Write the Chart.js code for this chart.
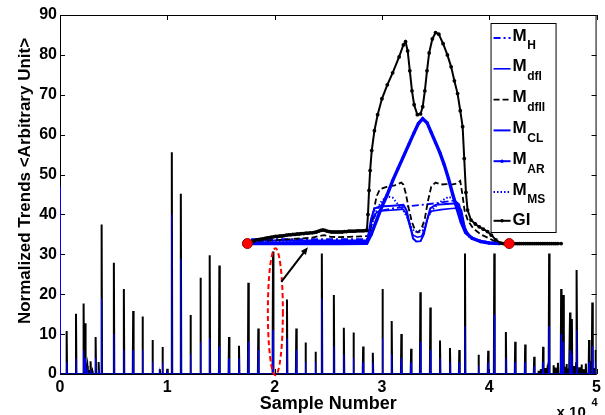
<!DOCTYPE html>
<html>
<head>
<meta charset="utf-8">
<script src="https://cdn.jsdelivr.net/npm/chart.js@4.4.0/dist/chart.umd.min.js"></script>
<style>
  html, body { margin: 0; padding: 0; background: #fff; }
  #wrap { width: 605px; height: 415px; }
</style>
</head>
<body>
<div id="wrap"><canvas id="trendChart" width="605" height="415"></canvas></div>
<script>
// spike train: peak positions (x 10^4 samples) and heights
const spikeX = [0.062, 0.149, 0.22, 0.235, 0.255, 0.285, 0.332, 0.36, 0.388, 0.502, 0.595, 0.682, 0.769, 0.862, 0.93, 0.955, 1.0,
  1.042, 1.126, 1.216, 1.309, 1.395, 1.485, 1.575, 1.668, 1.755, 1.848, 1.985, 2.115, 2.202, 2.288, 2.381, 2.44, 2.552, 2.645,
  2.735, 2.825, 2.915, 3.005, 3.091, 3.181, 3.272, 3.358, 3.451, 3.541, 3.634, 3.721, 3.774, 3.9, 3.99, 4.047, 4.155, 4.242,
  4.335, 4.419, 4.502, 4.558, 4.67, 4.69, 4.753, 4.77, 4.816, 4.93, 4.96, 4.99];
const spikeH = [10.8, 15.1, 17.7, 12.7, 2, 3.2, 9.3, 3, 37.5, 27.9, 21.3, 15.8, 14.4, 8.5, 1.2, 6.8, 1.3,
  55.6, 45.2, 14.8, 24.1, 29.8, 27.2, 9.3, 7.1, 22.9, 11.4, 30.7, 18.7, 11.4, 7.9, 5.6, 30.2, 19.8, 11.6,
  10.4, 6.9, 5.3, 21.3, 13.3, 10.0, 6.3, 20.5, 16.7, 8.4, 6.5, 6.0, 30.2, 4.8, 5.8, 30.2, 10.5, 8.1,
  7.4, 4.3, 6.8, 30.2, 21.3, 19.8, 15.4, 13.8, 26.1, 8.5, 17.9, 6];
// blue trace, same beats (first entry is the start at sample 0)
const blueX = [0].concat(spikeX);
const blueH = [47, 3, 4, 6, 4, 1, 1, 4, 1, 19, 10, 6, 6, 6, 3, 0.5, 3, 0.5,
  40, 29, 5, 8, 9, 7, 4, 4, 8, 6, 11, 9, 6, 3, 3, 19, 7, 5,
  4, 3, 3, 9, 5, 4, 3, 8, 6, 4, 3, 3, 12, 2, 3, 15, 4, 3,
  3, 2, 3, 12, 10, 8, 6, 5, 11, 3, 7, 3];
// small ripples near the end of the record
const noiseX = [0.24, 0.27, 0.30, 4.46, 4.48, 4.52, 4.54, 4.6, 4.62, 4.64, 4.7, 4.72, 4.74, 4.79, 4.81, 4.84, 4.86, 4.88, 4.9, 4.95, 4.97];
const noiseH = [1.5, 1.0, 0.8, 0.8, 1.2, 1.5, 0.9, 2.2, 1.6, 2.8, 1.8, 2.5, 1.4, 2.0, 3.0, 1.7, 2.4, 1.2, 2.6, 3.2, 1.5];

// trend curves, [x, y] pairs
const curveGI = [[1.746,32.7],[1.77,33.0],[1.79,33.2],[1.81,33.4],[1.83,33.6],[1.85,33.7],[1.87,33.8],[1.89,33.9],[1.91,34.0],
  [1.93,34.1],[1.95,34.2],[1.97,34.3],[1.99,34.4],[2.01,34.5],[2.03,34.5],[2.05,34.6],[2.07,34.6],[2.09,34.7],[2.11,34.8],
  [2.13,34.9],[2.15,34.9],[2.17,35.0],[2.19,35.0],[2.21,35.1],[2.23,35.1],[2.25,35.2],[2.27,35.2],[2.29,35.3],[2.31,35.3],
  [2.33,35.4],[2.35,35.4],[2.37,35.5],[2.39,35.6],[2.41,35.8],[2.43,36.0],[2.45,36.1],[2.47,36.0],[2.49,35.8],[2.51,35.7],
  [2.53,35.6],[2.55,35.6],[2.57,35.6],[2.59,35.6],[2.61,35.6],[2.63,35.6],[2.65,35.7],[2.67,35.7],[2.69,35.8],[2.71,35.8],
  [2.73,35.8],[2.75,35.8],[2.77,35.9],[2.79,35.9],[2.81,35.9],[2.83,35.9],[2.85,36.0],[2.86,36.0],
  [2.87,40],[2.88,46],[2.89,51],[2.905,56],[2.93,61],[2.96,65],[3.00,69],[3.05,72.5],[3.10,75.5],[3.16,79.5],[3.20,82.5],
  [3.22,83.3],[3.24,81],[3.26,76],[3.28,71],[3.30,67.5],[3.33,65],[3.36,65.2],[3.38,67],[3.40,71],[3.42,76],[3.44,80.5],
  [3.47,84],[3.50,85.6],[3.53,85.2],[3.57,82.8],[3.61,80],[3.645,77],[3.675,73.5],[3.705,70.3],[3.73,66],[3.752,62],
  [3.767,54],[3.783,45.5],[3.798,41.1],[3.83,38.6],[3.87,37.6],[3.907,36.9],[3.945,36.3],[3.984,35.7],[4.02,34.8],
  [4.062,33.6],[4.109,32.8],[4.13,32.7],[4.15,32.7],[4.17,32.7],[4.186,32.7],[4.20,32.7],[4.22,32.7],[4.24,32.7],
  [4.26,32.7],[4.28,32.7],[4.30,32.7],[4.32,32.7],[4.34,32.7],[4.36,32.7],[4.38,32.7],[4.40,32.7],[4.42,32.7],[4.44,32.7],
  [4.46,32.7],[4.48,32.7],[4.50,32.7],[4.52,32.7],[4.54,32.7],[4.56,32.7],[4.58,32.7],[4.60,32.7],[4.62,32.7],[4.64,32.7],
  [4.67,32.7]];
const curveDfII = [[1.76,32.7],[1.85,33.1],[1.95,33.4],[2.05,33.6],[2.15,33.8],[2.25,34.0],[2.35,34.2],[2.42,34.6],[2.46,34.8],
  [2.52,34.4],[2.6,34.3],[2.7,34.4],[2.8,34.5],[2.88,34.6],[2.90,37],[2.92,40.5],[2.95,44.5],[2.98,46.3],[3.05,47],[3.12,47.3],
  [3.18,48],[3.20,47.5],[3.22,45.5],[3.25,41.5],[3.28,38],[3.31,36],[3.335,35.5],[3.37,36.5],[3.40,39],[3.43,43.5],[3.46,47],
  [3.50,48],[3.55,47.5],[3.60,47.6],[3.65,47.5],[3.70,47.8],[3.73,48.4],[3.75,45],[3.77,41],[3.80,38.5],[3.85,36.5],
  [3.92,35],[4.0,34],[4.05,33.3],[4.1,32.8],[4.15,32.7]];
const curveAR = [[1.78,32.8],[2.0,32.8],[2.3,32.9],[2.6,32.9],[2.86,32.9],[2.90,35],[2.95,38.5],[3.00,42],[3.05,45],[3.10,48.5],
  [3.15,51.5],[3.20,54.5],[3.25,57.5],[3.30,60.5],[3.34,62.8],[3.38,64],[3.42,63],[3.46,60.5],[3.50,58],[3.54,55.5],[3.58,52.5],
  [3.62,49],[3.66,45],[3.70,41.5],[3.74,38],[3.78,35.5],[3.84,34],[3.92,33.2],[4.0,32.8],[4.1,32.7]];
const curveH = [[1.78,33.8],[2.2,33.8],[2.6,33.8],[2.86,33.8],[2.88,35],[2.91,38.5],[2.95,40.2],[3.0,41],[3.1,41.5],[3.2,41.9],
  [3.3,42.2],[3.4,42.5],[3.5,42.8],[3.6,43.2],[3.68,43.5],[3.72,42.5],[3.75,39],[3.78,36],[3.83,34.3],[3.9,33.5],[4.0,33],[4.1,32.8]];
const curveDfI = [[1.78,33.5],[2.2,33.5],[2.6,33.5],[2.86,33.5],[2.87,34],[2.9,38],[2.93,40],[2.97,40.8],[3.05,41.0],[3.15,41.2],
  [3.2,41.3],[3.23,40],[3.26,37],[3.29,34.8],[3.33,34.3],[3.37,34.5],[3.40,36.5],[3.43,39.5],[3.46,40.8],[3.55,41.2],[3.65,41.5],
  [3.72,41.6],[3.75,39],[3.78,36],[3.82,34.5],[3.9,33.6],[4.0,33.0],[4.05,32.8]];
const curveCL = [[1.78,32.5],[2.2,32.5],[2.6,32.5],[2.86,32.6],[2.87,34.5],[2.9,39],[2.93,41.5],[2.98,42],[3.1,42.2],[3.2,42.4],
  [3.23,41],[3.26,37.5],[3.29,34],[3.32,33.2],[3.36,33.3],[3.39,35],[3.42,38.5],[3.45,41.5],[3.5,42.4],[3.6,42.6],[3.7,42.8],
  [3.74,41],[3.77,37],[3.8,35],[3.86,33.8],[3.95,33.1],[4.05,32.7]];
const curveMS = [[1.78,33.2],[2.2,33.2],[2.6,33.2],[2.86,33.2],[2.87,34],[2.9,37],[2.95,41],[3.0,43.5],[3.05,44.5],[3.1,44.2],
  [3.15,42.5],[3.2,41],[3.24,39],[3.27,37],[3.30,35.8],[3.34,35.5],[3.38,36],[3.41,38],[3.45,40.5],[3.5,42],[3.56,43.5],
  [3.62,44.4],[3.67,44],[3.71,42],[3.74,39],[3.77,36],[3.8,34.6],[3.88,33.6],[4.0,33],[4.1,32.8]];
// start and end of the analysed window
const gateX = [1.746, 4.186];
const gateY = [32.7, 32.7];

const legendMain = ['M', 'M', 'M', 'M', 'M', 'M', 'GI'];
const legendSub = ['H', 'dfI', 'dfII', 'CL', 'AR', 'MS', ''];

const blue = '#0000ff';
const font = "'Liberation Sans', Arial, sans-serif";

function spikes(xs, hs) {
  var items = xs.map(function (x, i) { return [x, hs[i]]; });
  items.sort(function (a, b) { return a[0] - b[0]; });
  var pts = [];
  if (items[0][0] > 0) pts.push({x: 0, y: 0});
  items.forEach(function (it) {
    pts.push({x: it[0] - 0.004, y: 0}, {x: it[0], y: it[1]}, {x: it[0] + 0.004, y: 0});
  });
  pts.push({x: 5, y: 0});
  return pts;
}
function pts(arr) {
  return arr.map(function (p) { return {x: p[0], y: p[1]}; });
}

// box, inward ticks, ellipse + arrow, legend, y label
const frame = {
  id: 'frame',
  beforeDatasetsDraw(chart) {
    const ctx = chart.ctx, a = chart.chartArea, sx = chart.scales.x, sy = chart.scales.y;
    ctx.save();
    ctx.strokeStyle = '#000';
    ctx.lineWidth = 1;
    ctx.strokeRect(a.left + 0.5, a.top + 0.5, a.right - a.left - 1, a.bottom - a.top);
    ctx.beginPath();
    sx.ticks.forEach(function (t) {
      const px = Math.round(sx.getPixelForValue(t.value)) + 0.5;
      ctx.moveTo(px, a.bottom); ctx.lineTo(px, a.bottom - 5);
      ctx.moveTo(px, a.top); ctx.lineTo(px, a.top + 5);
    });
    sy.ticks.forEach(function (t) {
      const py = Math.round(sy.getPixelForValue(t.value)) + 0.5;
      ctx.moveTo(a.left, py); ctx.lineTo(a.left + 5, py);
      ctx.moveTo(a.right, py); ctx.lineTo(a.right - 5, py);
    });
    ctx.stroke();
    ctx.restore();
  },
  afterDatasetsDraw(chart) {
    const ctx = chart.ctx, a = chart.chartArea, sx = chart.scales.x, sy = chart.scales.y;
    const opt = chart.options.plugins.frame;
    ctx.save();
    // dashed ellipse around one beat
    const e = opt.ellipse;
    const cx = sx.getPixelForValue(e.x), cy = sy.getPixelForValue(e.y);
    const rx = sx.getPixelForValue(e.x + e.rx) - cx, ry = cy - sy.getPixelForValue(e.y + e.ry);
    ctx.strokeStyle = '#ff0000';
    ctx.lineWidth = 2;
    ctx.setLineDash([5, 3]);
    ctx.beginPath();
    ctx.ellipse(cx, cy, rx, ry, 0, 0, Math.PI * 2);
    ctx.stroke();
    ctx.setLineDash([]);
    // arrow pointing into the trend window
    const r = opt.arrow;
    const x0 = sx.getPixelForValue(r.from[0]), y0 = sy.getPixelForValue(r.from[1]);
    const x1 = sx.getPixelForValue(r.to[0]), y1 = sy.getPixelForValue(r.to[1]);
    const ang = Math.atan2(y1 - y0, x1 - x0);
    ctx.strokeStyle = '#000';
    ctx.fillStyle = '#000';
    ctx.lineWidth = 2;
    ctx.beginPath();
    ctx.moveTo(x0, y0);
    ctx.lineTo(x1 - 5 * Math.cos(ang), y1 - 5 * Math.sin(ang));
    ctx.stroke();
    ctx.beginPath();
    ctx.moveTo(x1, y1);
    ctx.lineTo(x1 - 8 * Math.cos(ang - 0.4), y1 - 8 * Math.sin(ang - 0.4));
    ctx.lineTo(x1 - 8 * Math.cos(ang + 0.4), y1 - 8 * Math.sin(ang + 0.4));
    ctx.closePath();
    ctx.fill();

    // legend box
    const left = a.right - 106, top = a.top + 8, w = 65, h = 209;
    ctx.fillStyle = '#fff';
    ctx.fillRect(left, top, w, h);
    ctx.strokeStyle = '#000';
    ctx.lineWidth = 1;
    ctx.strokeRect(left + 0.5, top + 0.5, w, h);
    legendMain.forEach(function (m, i) {
      const label = legendSub[i] ? m + '_' + legendSub[i] : m;
      const ds = chart.data.datasets.find(function (d) { return d.label === label; });
      const rowY = top + 13 + i * 30.8;
      const ly = legendSub[i] ? rowY + 2 : rowY;
      ctx.strokeStyle = ds.borderColor;
      ctx.lineWidth = Math.min(ds.borderWidth, 2);
      ctx.setLineDash(ds.borderDash || []);
      ctx.beginPath();
      ctx.moveTo(left + 3, ly);
      ctx.lineTo(left + 20, ly);
      ctx.stroke();
      ctx.setLineDash([]);
      if (ds.pointRadius > 0) {
        ctx.fillStyle = ds.borderColor;
        ctx.beginPath();
        ctx.arc(left + 11.5, ly, 1.8, 0, Math.PI * 2);
        ctx.fill();
      }
      ctx.fillStyle = '#000';
      ctx.textBaseline = 'middle';
      ctx.textAlign = 'left';
      ctx.font = 'bold 17px ' + font;
      ctx.fillText(m, left + 22, rowY);
      if (legendSub[i]) {
        const mw = ctx.measureText(m).width;
        ctx.font = 'bold 12px ' + font;
        ctx.fillText(legendSub[i], left + 22 + mw + 0.5, rowY + 10);
      }
    });
    ctx.restore();
  },
  afterDraw(chart) {
    const ctx = chart.ctx, a = chart.chartArea;
    ctx.save();
    ctx.fillStyle = '#000';
    ctx.font = 'bold 17px ' + font;
    ctx.textAlign = 'center';
    ctx.textBaseline = 'middle';
    ctx.translate(25, 181);
    ctx.rotate(-Math.PI / 2);
    ctx.fillText('Normalized Trends <Arbitrary Unit>', 0, 0);
    ctx.restore();
    // axis multiplier
    ctx.save();
    ctx.fillStyle = '#000';
    ctx.textAlign = 'left';
    ctx.textBaseline = 'alphabetic';
    ctx.font = 'bold 15px ' + font;
    ctx.fillText('x 10', a.right - 40, 417);
    ctx.font = 'bold 11px ' + font;
    ctx.fillText('4', a.right - 5, 406);
    ctx.restore();
  }
};

function line(label, data, color, width, dash, radius, order) {
  return {
    label: label, data: data, showLine: true, fill: false, tension: 0,
    borderColor: color, borderWidth: width, borderDash: dash,
    pointRadius: radius, pointBackgroundColor: color, pointBorderWidth: 0,
    order: order
  };
}

const ctxEl = document.getElementById('trendChart');
new Chart(ctxEl, {
  type: 'scatter',
  data: {
    datasets: [
      {
        label: 'gate', data: gateX.map(function (x, i) { return {x: x, y: gateY[i]}; }), showLine: false,
        pointRadius: 5, pointBackgroundColor: '#ff0000', pointBorderColor: '#990000', pointBorderWidth: 1, order: 0
      },
      line('GI', pts(curveGI), '#000', 2, [], 1.9, 1),
      line('M_MS', pts(curveMS), blue, 2, [1.5, 2], 0, 2),
      line('M_AR', pts(curveAR), blue, 3.4, [], 1.6, 3),
      line('M_CL', pts(curveCL), blue, 2, [], 0, 4),
      line('M_dfII', pts(curveDfII), '#000', 1.8, [6, 3], 0, 5),
      line('M_dfI', pts(curveDfI), blue, 1.6, [], 0, 6),
      line('M_H', pts(curveH), blue, 1.8, [7, 3, 2, 3], 0, 7),
      line('blue trace', spikes(blueX, blueH), blue, 1.1, [], 0, 8),
      line('signal', spikes(spikeX.concat(noiseX), spikeH.concat(noiseH)), '#000', 2, [], 0, 9)
    ]
  },
  options: {
    responsive: false,
    animation: false,
    events: [],
    layout: { padding: { top: 15, right: 7, left: 0, bottom: 0 } },
    scales: {
      x: {
        type: 'linear', min: 0, max: 5,
        grid: { display: false, drawTicks: false },
        border: { display: false },
        ticks: { stepSize: 1, padding: 4, color: '#000', font: { family: font, size: 16, weight: 'bold' } },
        title: { display: true, text: 'Sample Number', color: '#000', padding: { top: 0, bottom: 0 },
          font: { family: font, size: 18, weight: 'bold' } },
        afterFit: function (s) { s.height = 41; }
      },
      y: {
        type: 'linear', min: 0, max: 90,
        grid: { display: false, drawTicks: false },
        border: { display: false },
        ticks: { stepSize: 10, padding: 3, color: '#000', font: { family: font, size: 16, weight: 'bold' } },
        afterFit: function (s) { s.width = 60; }
      }
    },
    plugins: {
      legend: { display: false },
      tooltip: { enabled: false },
      frame: {
        ellipse: { x: 2.007, y: 15.6, rx: 0.07, ry: 15.9 },
        arrow: { from: [2.062, 23.1], to: [2.31, 31.8] }
      }
    }
  },
  plugins: [frame]
});
</script>
</body>
</html>
